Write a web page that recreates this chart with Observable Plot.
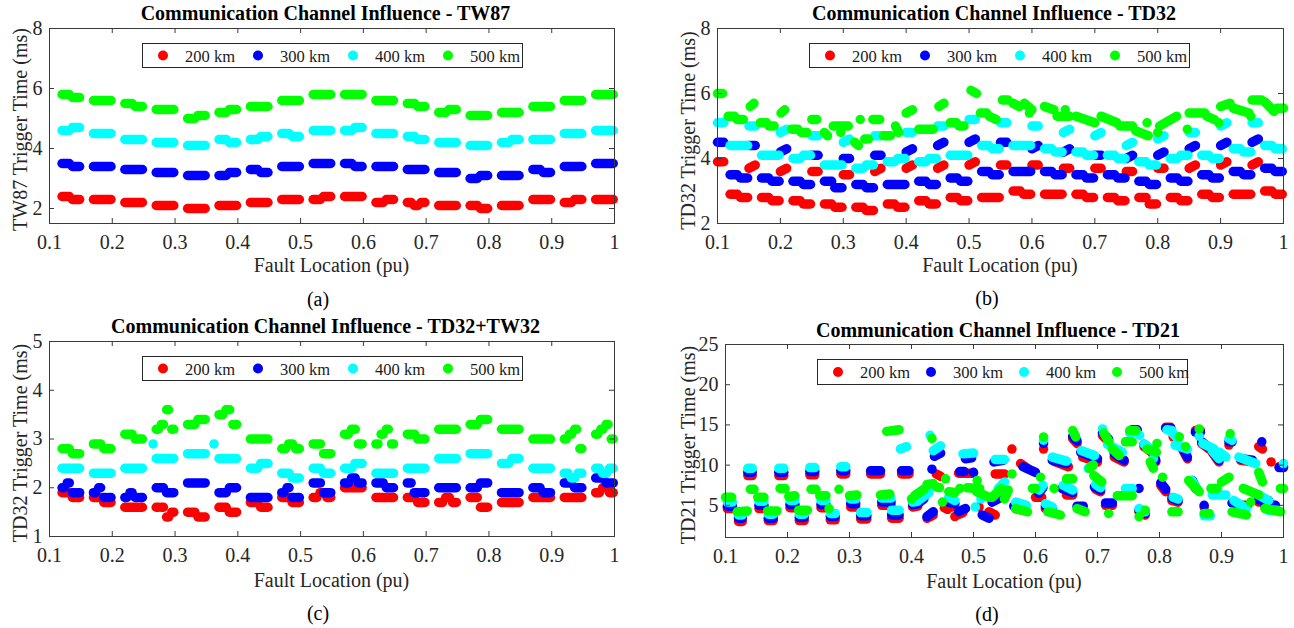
<!DOCTYPE html>
<html><head><meta charset="utf-8">
<script src="https://cdn.jsdelivr.net/npm/d3@7"></script>
<script src="https://cdn.jsdelivr.net/npm/@observablehq/plot@0.6"></script>
<style>
body{margin:0;background:#fff;}
#root{position:relative;width:1294px;height:628px;overflow:hidden;background:#fff;}
</style></head>
<body><div id="root"></div>
<script>
// ---------------- shared axis data ----------------
const xTicks = [0.1,0.2,0.3,0.4,0.5,0.6,0.7,0.8,0.9,1];
const xTickLabels = ["0.1","0.2","0.3","0.4","0.5","0.6","0.7","0.8","0.9","1"];
const seriesNames = ["200 km","300 km","400 km","500 km"];
const seriesColors = ["#ff0000","#0000ff","#00ffff","#00ff00"];
// fault-location groups (start of each sampled group) and gaps (panel b)
const groupStarts = [0.12,0.17,0.22,0.27,0.32,0.37,0.42,0.47,0.52,0.57,0.62,0.67,0.72,0.77,0.82,0.87,0.92,0.97];
const gapStarts = [0.1,0.15,0.2,0.25,0.3,0.35,0.4,0.45,0.5,0.55,0.6,0.65,0.7,0.75,0.8,0.85,0.9,0.95];

// ---------------- (a) TW87: levels per group ----------------
const yTicksA = [2,4,6,8], yTickLabelsA = ["2","4","6","8"];
const redA   = [[2.4,2.3],[2.3],[2.2],[2.1],[2.0],[2.1],[2.2],[2.3],[2.3,2.4],[2.4],[2.2,2.3],[2.2,2.1,2.2],[2.1],[2.1,2.0],[2.1],[2.3],[2.2,2.3],[2.3]];
const blueA  = [[3.5,3.4],[3.4],[3.3],[3.2],[3.1],[3.1,3.2],[3.3,3.2],[3.4],[3.5],[3.5,3.4],[3.4],[3.3],[3.2],[3.0,3.1],[3.1],[3.3,3.2],[3.4],[3.5]];
const cyanA  = [[4.6,4.7],[4.5],[4.3],[4.2],[4.1],[4.3,4.2],[4.3,4.4],[4.5,4.4],[4.6],[4.6,4.7],[4.5],[4.4,4.3],[4.2],[4.1],[4.2,4.3],[4.3],[4.5],[4.6]];
const greenA = [[5.8,5.7],[5.6],[5.5,5.4],[5.3],[5.0,5.1],[5.2,5.3],[5.4],[5.6],[5.8],[5.8],[5.6],[5.5,5.4],[5.2,5.3],[5.1],[5.2],[5.4],[5.6],[5.8]];

// ---------------- (b) TD32: gap runs [start,end] + group levels ----------------
const yTicksB = [2,4,6,8], yTickLabelsB = ["2","4","6","8"];
const redBgap  = [[3.9,3.9],[3.7,3.8],[3.6,3.7],[3.6,3.6],[3.5,3.5],[3.6,3.7],[3.7,3.8],[3.7,3.8],[3.8,3.9],[3.8,3.8],[3.8,3.8],[3.7,3.7],[3.7,3.7],[3.6,3.6],[3.7,3.7],[3.7,3.8],[3.8,3.9],[3.8,3.9]];
const redBgrp  = [[2.9,2.8],[2.8,2.7],[2.7,2.6],[2.6,2.5],[2.5,2.4],[2.6,2.5],[2.7,2.6],[2.8,2.7],[2.8],[3.0,2.9],[2.9],[2.9,2.8],[2.8,2.7],[2.8,2.6],[2.8,2.7],[2.9,2.8],[2.9],[3.0,2.9]];
const blueBgap = [[4.5,4.5],[4.4,4.4],[4.2,4.3],[4.1,4.1],[4.0,4.0],[4.1,4.1],[4.2,4.3],[4.4,4.5],[4.5,4.6],[4.5,4.5],[4.3,4.4],[4.2,4.3],[4.1,4.1],[4.0,4.1],[4.1,4.2],[4.3,4.4],[4.4,4.5],[4.5,4.6]];
const blueBgrp = [[3.5,3.4],[3.4,3.3],[3.3,3.2],[3.3,3.1],[3.2,3.1],[3.2],[3.3,3.2],[3.4,3.3],[3.6,3.5],[3.6],[3.6,3.5],[3.5,3.4],[3.5,3.4],[3.3,3.2],[3.4,3.3],[3.5,3.4],[3.6,3.5],[3.7,3.6]];
const cyanBgap = [[5.1,5.1],[5.0,5.0],[4.8,4.9],[4.7,4.7],[4.5,4.6],[4.7,4.7],[4.8,4.8],[5.0,5.0],[5.2,5.2],[5.1,5.1],[5.0,5.0],[4.8,4.9],[4.7,4.8],[4.4,4.5],[4.6,4.7],[4.8,4.8],[5.0,5.1],[5.1,5.1]];
const cyanBgrp = [[4.4],[4.1],[4.0,4.1],[3.8],[3.7,3.8],[3.9,4.0],[3.9,4.0],[4.1],[4.4,4.3],[4.4],[4.3,4.2],[4.2,4.1],[4.1,4.0],[3.9,3.8],[4.0,4.1],[4.1,4.0],[4.3,4.2],[4.4,4.3]];
// green runs [x1,y1,x2,y2]
const greenB = [
 [0.1,6.0,0.108,6.0],[0.117,5.3,0.127,5.3],[0.131,5.2,0.141,5.2],[0.152,5.6,0.158,5.7],
 [0.168,5.1,0.178,5.1],[0.182,5.0,0.19,5.0],[0.201,5.4,0.207,5.5],[0.218,4.9,0.228,4.9],
 [0.233,4.8,0.242,4.8],[0.25,5.2,0.258,5.2],[0.27,4.8,0.275,4.7],[0.284,5.0,0.308,5.0],
 [0.296,4.8,0.296,4.8],[0.318,4.5,0.324,4.4],[0.327,5.2,0.327,5.2],[0.334,4.6,0.34,4.6],
 [0.347,5.2,0.358,5.2],[0.364,4.7,0.375,4.7],[0.383,5.0,0.388,4.8],[0.4,5.4,0.41,5.5],
 [0.42,4.9,0.443,4.9],[0.452,5.6,0.46,5.7],[0.47,5.1,0.48,5.1],[0.484,5.0,0.492,5.0],
 [0.503,6.1,0.512,6.0],[0.518,5.4,0.528,5.4],[0.532,5.3,0.543,5.2],[0.553,5.8,0.562,5.8],
 [0.57,5.7,0.58,5.6],[0.588,5.7,0.6,5.5],[0.596,5.4,0.596,5.4],[0.62,5.6,0.635,5.5],
 [0.64,5.3,0.66,5.3],[0.653,5.5,0.653,5.5],[0.67,5.3,0.7,5.1],[0.71,5.3,0.735,5.1],
 [0.74,5.0,0.76,5.0],[0.765,4.85,0.785,4.7],[0.783,5.1,0.783,5.1],[0.8,4.8,0.8,4.8],
 [0.803,5.0,0.83,5.3],[0.847,4.9,0.847,4.9],[0.85,5.4,0.875,5.4],[0.878,5.3,0.89,5.2],
 [0.897,5.1,0.897,5.1],[0.9,5.6,0.915,5.7],[0.92,5.55,0.945,5.4],[0.948,5.3,0.948,5.3],
 [0.95,5.8,0.965,5.8],[0.97,5.75,0.985,5.45],[0.99,5.55,1.0,5.55]
];

// ---------------- (c) TD32+TW32: levels per group ----------------
const yTicksC = [1,2,3,4,5], yTickLabelsC = ["1","2","3","4","5"];
const redC   = [[1.9,1.8],[1.8,1.7],[1.6],[1.6,1.6,1.4,1.5],[1.5,1.4],[1.6,1.5],[1.7,1.6],[1.8,1.7],[1.8,1.9,1.8],[2.0],[1.8],[1.8,1.7],[1.7,1.8,1.7],[1.8,1.6],[1.7],[1.8],[1.8],[1.9,2.0,1.9]];
const blueC  = [[2.0,2.1,1.9,1.9],[1.9,2.0,1.8,1.8],[1.8,1.9,1.8,1.8],[2.0,1.9],[2.1],[1.9,2.0],[1.8],[1.9,2.0,1.8,1.8],[2.1,1.9],[2.1,2.2,2.1],[2.1,2.0],[2.1,1.9,1.9],[2.0],[2.0,2.1],[1.9],[2.0,1.9],[2.1,2.0],[2.2,2.1]];
const cyanC  = [[2.4],[2.3],[2.4],[2.6],[2.7],[2.6],[2.4,2.5],[2.3,2.2],[2.4,2.3],[2.4,2.5],[2.3],[2.4],[2.6],[2.7],[2.5,2.6],[2.4],[2.3,2.2,2.3],[2.4,2.3,2.4]];
const cyanCextra = [[0.265,2.9],[0.362,2.9]];
const greenC = [[2.8,2.7],[2.9,2.8],[3.1,3.0],[3.2,3.3,3.6,3.2],[3.3,3.4],[3.5,3.6,3.3],[3.0],[2.8,2.9,2.8],[2.9,2.7],[3.1,3.2,2.9],[2.9,3.1,3.2,2.9],[3.1,3.0],[3.2],[3.3,3.4],[3.2],[3.0],[3.0,3.1,3.2,2.8],[3.1,3.2,3.3,3.0]];

// ---------------- (d) TD21: runs [x1,y1,x2,y2] ----------------
const yTicksD = [5,10,15,20,25], yTickLabelsD = ["5","10","15","20","25"];
const redD = [
 [0.103,4.6,0.111,4.6],[0.121,3.0,0.127,3.0],[0.136,8.7,0.143,8.7],
 [0.154,4.6,0.162,4.6],[0.169,3.1,0.177,3.1],[0.186,8.7,0.194,8.7],
 [0.204,4.7,0.212,4.7],[0.219,3.1,0.227,3.1],[0.236,8.8,0.244,8.8],
 [0.254,4.7,0.262,4.7],[0.269,3.2,0.277,3.2],[0.286,8.9,0.294,8.9],
 [0.302,4.8,0.31,4.8],[0.318,3.3,0.328,3.3],[0.334,8.9,0.35,8.9],
 [0.352,5.0,0.367,5.0],[0.368,3.4,0.38,3.4],[0.384,8.9,0.396,8.9],
 [0.402,4.8,0.41,4.9],[0.425,3.4,0.435,3.8],[0.44,8.9,0.447,8.6],[0.453,4.7,0.458,4.5],
 [0.462,5.0,0.466,4.8],[0.47,3.6,0.47,3.6],[0.474,3.8,0.483,4.1],[0.476,9.0,0.5,9.0],
 [0.509,4.8,0.509,4.8],[0.525,4.2,0.535,3.8],[0.535,8.9,0.55,8.9],[0.562,12.0,0.562,12.0],
 [0.568,4.6,0.578,4.4],[0.576,10.2,0.587,9.6],[0.6,6.0,0.61,6.0],[0.613,12.0,0.613,12.0],
 [0.616,4.6,0.627,4.2],[0.632,10.4,0.653,9.8],[0.65,6.3,0.66,6.3],[0.66,13.3,0.667,12.7],
 [0.67,4.6,0.67,4.6],[0.676,11.0,0.7,10.4],[0.697,7.0,0.705,6.7],[0.708,13.7,0.718,12.9],
 [0.713,5.0,0.724,5.0],[0.727,11.0,0.743,10.4],[0.75,6.9,0.75,6.9],[0.756,14.3,0.764,14.3],
 [0.767,4.2,0.777,3.8],[0.775,12.3,0.788,11.6],[0.79,11.2,0.794,10.4],[0.802,7.5,0.81,6.7],
 [0.81,14.7,0.818,14.7],[0.822,13.5,0.83,13.5],[0.837,12.0,0.845,10.8],[0.82,5.6,0.83,5.4],
 [0.853,7.9,0.858,7.1],[0.858,14.3,0.866,14.3],[0.868,12.7,0.88,12.0],[0.885,11.6,0.896,10.4],
 [0.872,4.8,0.872,4.8],[0.912,12.5,0.912,12.5],[0.928,5.0,0.942,5.0],[0.931,10.6,0.95,10.4],
 [0.96,12.3,0.966,12.0],[0.96,5.4,0.976,5.4],[0.97,4.8,0.987,4.8],[0.98,10.4,0.98,10.4],[0.993,9.8,1.0,9.8]
];
const blueD = [
 [0.103,4.9,0.111,4.9],[0.121,3.4,0.127,3.4],[0.136,9.1,0.143,9.1],
 [0.154,5.0,0.162,5.0],[0.169,3.4,0.177,3.4],[0.186,9.1,0.194,9.1],
 [0.204,5.1,0.212,5.1],[0.219,3.5,0.227,3.5],[0.236,9.2,0.244,9.2],
 [0.254,5.1,0.262,5.1],[0.269,3.6,0.277,3.6],[0.286,9.3,0.294,9.3],
 [0.302,5.2,0.31,5.2],[0.318,3.7,0.328,3.7],[0.334,9.3,0.35,9.3],
 [0.352,5.4,0.367,5.4],[0.368,3.8,0.38,3.8],[0.384,9.3,0.396,9.3],
 [0.402,5.1,0.41,5.2],[0.413,5.4,0.42,5.8],[0.425,3.6,0.435,4.2],[0.433,9.5,0.433,9.5],[0.437,11.1,0.447,11.5],
 [0.46,5.4,0.47,5.2],[0.476,4.2,0.487,4.6],[0.478,9.2,0.485,9.2],[0.487,10.8,0.497,10.9],
 [0.5,9.1,0.5,9.1],[0.514,3.8,0.525,3.4],[0.53,5.4,0.54,5.8],[0.533,10.4,0.548,10.6],
 [0.565,4.9,0.58,4.7],[0.58,9.8,0.6,9.1],[0.605,6.5,0.612,7.2],[0.613,12.7,0.613,12.7],
 [0.616,4.9,0.627,4.5],[0.627,10.6,0.65,10.2],[0.643,7.1,0.66,6.6],[0.66,13.6,0.667,13.0],
 [0.667,4.9,0.677,4.9],[0.673,11.6,0.7,10.8],[0.695,7.3,0.705,6.9],[0.708,14.0,0.718,13.2],
 [0.713,5.3,0.724,5.3],[0.727,11.4,0.743,10.6],[0.756,14.4,0.764,14.4],[0.767,7.1,0.767,7.1],
 [0.767,4.4,0.777,4.0],[0.775,12.6,0.788,11.8],[0.79,11.4,0.794,10.6],[0.802,7.8,0.81,7.0],
 [0.81,14.6,0.818,14.6],[0.837,12.2,0.845,11.0],[0.82,5.9,0.83,5.6],[0.853,8.1,0.858,7.3],
 [0.858,14.1,0.866,14.1],[0.868,12.9,0.88,12.2],[0.885,11.8,0.896,10.6],[0.872,5.0,0.872,5.0],
 [0.912,12.9,0.917,12.9],[0.917,5.3,0.932,5.0],[0.931,10.8,0.95,10.6],[0.965,12.9,0.965,12.9],
 [0.96,5.7,0.976,5.6],[0.97,5.1,0.987,5.0],[0.993,9.7,1.0,9.7]
];
const cyanD = [
 [0.103,5.4,0.111,5.4],[0.121,3.8,0.127,3.8],[0.136,9.6,0.143,9.6],
 [0.154,5.5,0.162,5.5],[0.169,3.9,0.177,3.9],[0.186,9.6,0.194,9.6],
 [0.204,5.6,0.212,5.6],[0.219,3.9,0.227,3.9],[0.236,9.7,0.244,9.7],
 [0.254,5.6,0.262,5.6],[0.269,4.0,0.277,4.0],[0.286,9.8,0.294,9.8],
 [0.302,5.8,0.31,5.8],[0.318,4.1,0.328,4.1],
 [0.352,5.9,0.367,5.9],[0.368,4.4,0.38,4.4],[0.382,12.0,0.392,12.3],
 [0.402,5.4,0.41,5.5],[0.415,5.8,0.428,6.6],[0.43,13.7,0.43,13.7],[0.435,11.8,0.447,12.4],
 [0.46,6.0,0.47,5.6],[0.483,11.4,0.5,11.5],
 [0.503,4.8,0.503,4.8],[0.512,5.8,0.512,5.8],[0.54,7.1,0.55,7.9],[0.535,10.7,0.55,10.7],
 [0.568,5.4,0.585,5.0],[0.606,6.9,0.612,7.5],[0.613,13.1,0.613,13.1],[0.616,5.2,0.627,4.8],
 [0.627,11.0,0.65,10.5],[0.645,7.5,0.66,6.9],[0.674,11.8,0.695,11.2],[0.685,9.6,0.693,10.0],
 [0.697,7.6,0.705,7.2],[0.708,14.5,0.708,14.5],[0.716,12.6,0.74,11.6],[0.745,7.1,0.756,7.1],
 [0.752,14.0,0.762,14.2],[0.768,13.7,0.768,13.7],[0.767,4.6,0.777,4.2],[0.775,12.6,0.79,11.8],
 [0.79,10.8,0.79,10.8],[0.812,14.4,0.82,14.3],[0.822,13.9,0.83,13.3],[0.825,12.5,0.845,12.0],
 [0.822,6.0,0.83,5.8],[0.852,8.1,0.862,6.9],[0.864,13.6,0.864,13.6],[0.87,12.7,0.888,12.0],
 [0.885,11.8,0.896,10.8],[0.872,3.7,0.882,3.7],[0.885,6.3,0.907,6.3],[0.897,11.6,0.907,11.0],
 [0.912,13.3,0.917,13.1],[0.92,5.6,0.94,4.6],[0.928,11.0,0.955,10.2],[0.96,6.3,0.976,5.6],
 [0.975,4.4,0.99,4.4],[1.0,10.2,1.0,10.2]
];
const greenD = [
 [0.1,6.0,0.11,6.0],[0.119,4.2,0.135,4.3],[0.14,7.0,0.146,7.0],
 [0.152,6.0,0.162,6.0],[0.168,4.3,0.183,4.3],[0.188,7.1,0.196,7.1],
 [0.202,6.1,0.212,6.2],[0.218,4.4,0.232,4.4],[0.238,7.0,0.246,7.0],
 [0.252,6.2,0.262,6.2],[0.267,4.6,0.267,4.6],[0.283,7.0,0.283,7.0],
 [0.3,6.2,0.312,6.3],
 [0.35,6.3,0.365,6.4],[0.36,14.2,0.38,14.4],
 [0.4,5.8,0.4,5.8],[0.405,6.2,0.42,7.0],[0.425,7.6,0.435,7.7],[0.44,7.3,0.445,7.2],[0.433,13.3,0.433,13.3],[0.455,8.3,0.455,8.3],[0.45,5.4,0.45,5.4],
 [0.46,6.7,0.47,6.6],[0.478,7.1,0.478,7.1],[0.49,7.2,0.51,7.1],[0.506,8.1,0.506,8.1],
 [0.505,6.7,0.525,6.0],[0.53,6.0,0.545,7.1],[0.55,5.8,0.556,6.9],[0.562,8.9,0.562,8.9],
 [0.568,4.6,0.587,4.2],[0.595,7.1,0.6,7.1],[0.608,8.5,0.608,8.5],[0.613,13.5,0.613,13.5],
 [0.62,4.2,0.64,3.8],[0.63,7.1,0.63,7.1],[0.65,8.3,0.66,8.3],[0.66,14.3,0.665,13.5],
 [0.667,4.6,0.68,4.2],[0.687,9.6,0.693,10.0],[0.694,8.7,0.707,7.9],[0.71,14.0,0.718,13.0],
 [0.718,4.0,0.718,4.0],[0.724,12.0,0.735,11.2],[0.732,6.2,0.756,6.2],[0.745,12.9,0.756,12.9],
 [0.752,14.3,0.762,14.3],[0.767,3.6,0.767,3.6],[0.777,4.4,0.777,4.4],[0.78,12.0,0.795,11.6],
 [0.785,10.4,0.79,9.6],[0.796,12.7,0.796,12.7],[0.805,8.5,0.805,8.5],[0.82,4.2,0.83,4.2],
 [0.832,13.5,0.832,13.5],[0.842,12.3,0.842,12.3],[0.847,8.1,0.864,6.7],[0.864,14.5,0.864,14.5],
 [0.872,4.0,0.88,4.0],[0.883,7.1,0.893,7.1],[0.9,7.9,0.912,8.5],[0.914,13.9,0.914,13.9],
 [0.917,4.2,0.94,3.8],[0.935,7.1,0.96,6.3],[0.947,5.4,0.947,5.4],[0.96,9.1,0.966,7.9],
 [0.97,4.6,0.995,4.2],[0.995,7.1,1.0,7.1]
];

// ---------------- helpers ----------------
const GROUP_LEN = 0.028, GAP_LEN = 0.01, STEP = 0.005;
function groupRuns(levels) {
  const runs = [];
  groupStarts.forEach((s, k) => {
    const lv = levels[k], n = lv.length, slot = (GROUP_LEN + STEP) / n;
    lv.forEach((v, i) => { const a = s + i * slot; runs.push([a, v, a + slot - STEP, v]); });
  });
  return runs;
}
function gapRuns(gaps) { return gapStarts.map((s, k) => [s, gaps[k][0], s + GAP_LEN, gaps[k][1]]); }
function pointRuns(pts) { return pts.map(p => [p[0], p[1], p[0], p[1]]); }

const AX = "#3a3a3a";
const FONT = '"Liberation Serif","Times New Roman",serif';
const root = document.getElementById("root");

function panel(cfg) {
  const {left, top, width, height, mt, mr, mb, ml, yDomain, yTicks, yTickLabels, runsList} = cfg;
  const pw = width - ml - mr, ph = height - mt - mb;
  const marks = runsList.map((runs, i) => Plot.link(runs, {
    x1: d => d[0], y1: d => d[1], x2: d => d[2], y2: d => d[3],
    stroke: seriesColors[i], strokeWidth: 9.5, strokeLinecap: "round"
  }));
  marks.push(
    Plot.frame({stroke: AX, strokeWidth: 1}),
    Plot.tickX(xTicks, {x: d => d, stroke: AX, insetTop: ph - 5}),
    Plot.tickX(xTicks, {x: d => d, stroke: AX, insetBottom: ph - 5}),
    Plot.tickY(yTicks, {y: d => d, stroke: AX, insetRight: pw - 5}),
    Plot.tickY(yTicks, {y: d => d, stroke: AX, insetLeft: pw - 5}),
    Plot.axisX(xTicks, {anchor: "bottom", tickSize: 0, tickPadding: 11, label: null,
      tickFormat: d => xTickLabels[xTicks.indexOf(d)]}),
    Plot.axisY(yTicks, {anchor: "left", tickSize: 0, tickPadding: 7, label: null,
      tickFormat: d => yTickLabels[yTicks.indexOf(d)]})
  );
  const chart = Plot.plot({
    width, height, marginTop: mt, marginRight: mr, marginBottom: mb, marginLeft: ml,
    x: {domain: [0.1, 1]}, y: {domain: yDomain},
    style: {fontFamily: FONT, fontSize: "20px", color: "#262626", background: "transparent", overflow: "visible"},
    marks
  });
  chart.style.position = "absolute";
  chart.style.left = left + "px";
  chart.style.top = top + "px";
  root.appendChild(chart);
}

panel({left: 0, top: 0, width: 647, height: 300, mt: 28, mr: 33, mb: 77, ml: 49,
  yDomain: [1.5, 8], yTicks: yTicksA, yTickLabels: yTickLabelsA,
  runsList: [groupRuns(redA), groupRuns(blueA), groupRuns(cyanA), groupRuns(greenA)]});
panel({left: 647, top: 0, width: 647, height: 300, mt: 28, mr: 11, mb: 77, ml: 70,
  yDomain: [2, 8], yTicks: yTicksB, yTickLabels: yTickLabelsB,
  runsList: [gapRuns(redBgap).concat(groupRuns(redBgrp)), gapRuns(blueBgap).concat(groupRuns(blueBgrp)),
             gapRuns(cyanBgap).concat(groupRuns(cyanBgrp)), greenB]});
panel({left: 0, top: 314, width: 647, height: 300, mt: 27, mr: 33, mb: 78, ml: 49,
  yDomain: [1, 5], yTicks: yTicksC, yTickLabels: yTickLabelsC,
  runsList: [groupRuns(redC), groupRuns(blueC), groupRuns(cyanC).concat(pointRuns(cyanCextra)), groupRuns(greenC)]});
panel({left: 647, top: 314, width: 647, height: 300, mt: 30, mr: 11, mb: 77, ml: 78,
  yDomain: [1, 25], yTicks: yTicksD, yTickLabels: yTickLabelsD,
  runsList: [redD, blueD, cyanD, greenD]});

// ---------------- titles, labels, legends, captions ----------------
const ov = d3.select(root).append("svg").attr("width", 1294).attr("height", 628)
  .style("position", "absolute").style("left", "0px").style("top", "0px")
  .style("font-family", FONT);
const titles = [
  ["Communication Channel Influence - TW87", 325.5, 20],
  ["Communication Channel Influence - TD32", 994, 20],
  ["Communication Channel Influence - TD32+TW32", 325.5, 333],
  ["Communication Channel Influence - TD21", 998, 337]
];
titles.forEach(([t, x, y]) => ov.append("text").attr("x", x).attr("y", y).attr("text-anchor", "middle")
  .attr("font-size", 20).attr("font-weight", "bold").attr("fill", "#000").text(t));
const xLabels = [[331.5, 272], [1000, 272], [331.5, 587], [1004, 588]];
xLabels.forEach(([x, y]) => ov.append("text").attr("x", x).attr("y", y).attr("text-anchor", "middle")
  .attr("font-size", 20).attr("fill", "#262626").text("Fault Location (pu)"));
const yLabels = [
  ["TW87 Trigger Time (ms)", 27, 129.5],
  ["TD32 Trigger Time (ms)", 695, 130.5],
  ["TD32 Trigger Time (ms)", 27, 443],
  ["TD21 Trigger Time (ms)", 695, 445]
];
yLabels.forEach(([t, x, y]) => ov.append("text").attr("transform", `translate(${x},${y}) rotate(-90)`)
  .attr("text-anchor", "middle").attr("font-size", 20).attr("fill", "#262626").text(t));
const captions = [["(a)", 318, 306], ["(b)", 987, 305], ["(c)", 318, 620], ["(d)", 987, 621]];
captions.forEach(([t, x, y]) => ov.append("text").attr("x", x).attr("y", y).attr("text-anchor", "middle")
  .attr("font-size", 20).attr("fill", "#000").text(t));
const legends = [
  {x: 142, y: 43, w: 380, h: 24, pitch: 95},
  {x: 809, y: 43, w: 380, h: 24, pitch: 95},
  {x: 142, y: 356, w: 380, h: 24, pitch: 95},
  {x: 817, y: 359, w: 370, h: 25, pitch: 93}
];
legends.forEach(L => {
  const g = ov.append("g").attr("transform", `translate(${L.x},${L.y})`);
  g.append("rect").attr("x", 0.5).attr("y", 0.5).attr("width", L.w).attr("height", L.h)
    .attr("fill", "#fff").attr("stroke", "#262626").attr("stroke-width", 1);
  seriesNames.forEach((n, i) => {
    const cx = 21 + i * L.pitch;
    g.append("circle").attr("cx", cx).attr("cy", L.h / 2 + 0.5).attr("r", 5).attr("fill", seriesColors[i]);
    g.append("text").attr("x", cx + 22).attr("y", L.h / 2 + 6.5).attr("font-size", 16.5).attr("fill", "#1a1a1a").text(n);
  });
});
</script>
</body></html>
